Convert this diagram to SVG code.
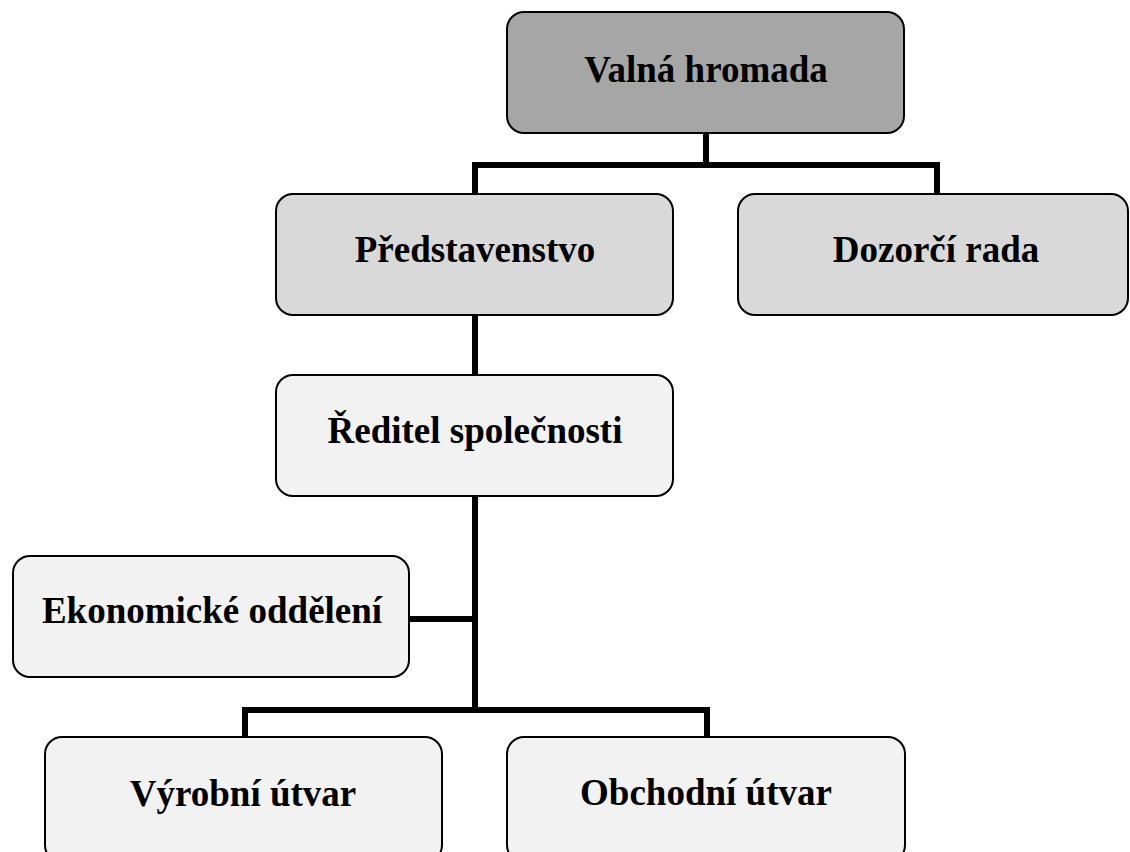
<svg xmlns="http://www.w3.org/2000/svg" width="1130" height="852" viewBox="0 0 1130 852">
<style>
.box{stroke:#000;stroke-width:2}
.l1{fill:#a6a6a6}.l2{fill:#d9d9d9}.l3{fill:#f2f2f2}
.t{font-family:"Liberation Serif","Times New Roman",serif;font-weight:bold;font-size:37px;text-anchor:middle;fill:#000}
.c{fill:none;stroke:#000;stroke-width:6}
</style>
<rect width="1130" height="852" fill="#fff"/>
<g id="connectors">
<path class="c" d="M706 133V165M475 165H937M475 162V194M937 162V194"/>
<path class="c" d="M475 315V375"/>
<path class="c" d="M475 496V713M409 619H475"/>
<path class="c" d="M245 710H707M245 707V737M707 707V737"/>
</g>
<g id="valna"><rect class="box l1" x="507" y="12" width="397" height="121" rx="17"/><text class="t" x="706" y="82">Valná hromada</text></g>
<g id="predstavenstvo"><rect class="box l2" x="276" y="194" width="397" height="121" rx="17"/><text class="t" x="475" y="262">Představenstvo</text></g>
<g id="dozorci"><rect class="box l2" x="738" y="194" width="390" height="121" rx="17"/><text class="t" x="936" y="262">Dozorčí rada</text></g>
<g id="reditel"><rect class="box l3" x="276" y="375" width="397" height="121" rx="17"/><text class="t" x="475" y="443">Ředitel společnosti</text></g>
<g id="ekonomicke"><rect class="box l3" x="13" y="556" width="396" height="121" rx="17"/><text class="t" x="212" y="623">Ekonomické oddělení</text></g>
<g id="vyrobni"><rect class="box l3" x="45" y="737" width="397" height="125" rx="17"/><text class="t" x="243" y="806">Výrobní útvar</text></g>
<g id="obchodni"><rect class="box l3" x="507" y="737" width="398" height="125" rx="17"/><text class="t" x="706" y="805">Obchodní útvar</text></g>
</svg>
